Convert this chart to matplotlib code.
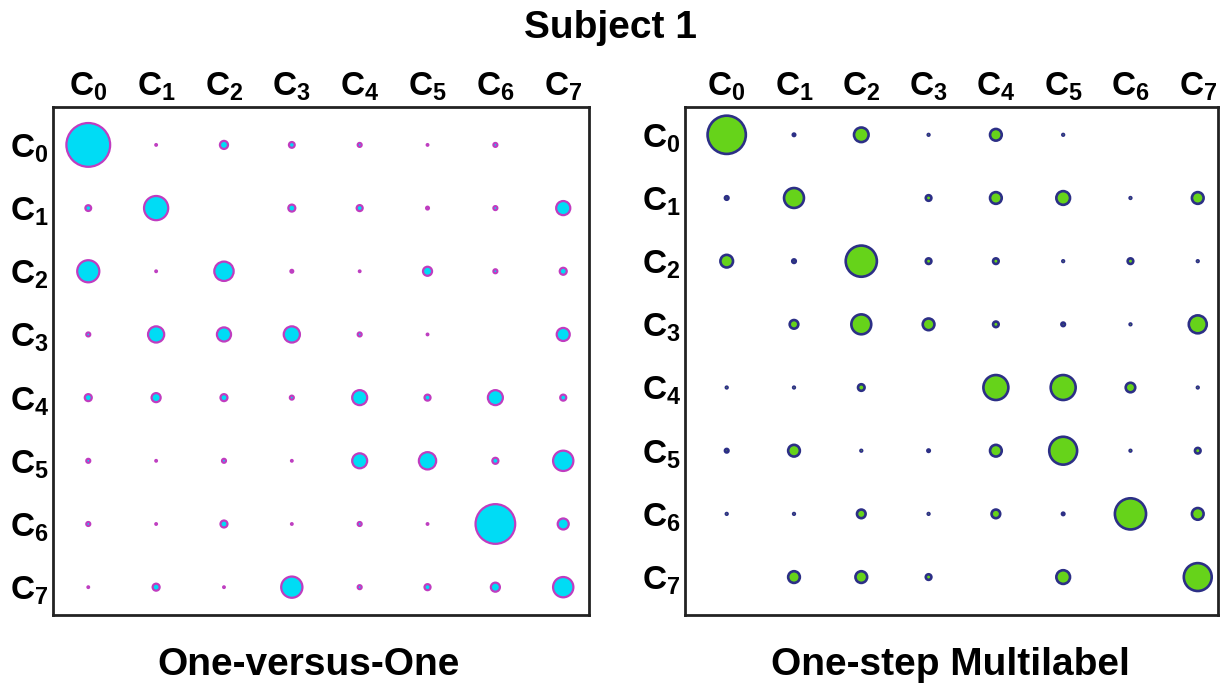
import numpy as np
import matplotlib
matplotlib.use('Agg')
import matplotlib.pyplot as plt

plt.rcParams['font.family'] = ['Liberation Sans', 'DejaVu Sans']
plt.rcParams['mathtext.fontset'] = 'custom'
plt.rcParams['mathtext.bf'] = 'Liberation Sans:bold'
plt.rcParams['mathtext.rm'] = 'Liberation Sans'

classes = ['C0', 'C1', 'C2', 'C3', 'C4', 'C5', 'C6', 'C7']
tick_labels = [r'$\mathbf{C_%d}$' % i for i in range(len(classes))]

# rows = true class, cols = predicted class (relative scores, circle area ~ value)
ovo = np.array([
    [100, 0.4, 5, 3, 1.8, 0.4, 1.8, 0],
    [3, 33, 0, 4, 3.2, 1.2, 1.8, 12.6],
    [28, 0.4, 22, 1.2, 0.4, 6, 1.8, 4],
    [1.8, 16, 12.6, 16, 1.8, 0.3, 0, 11],
    [4, 6, 4, 1.8, 14, 3.2, 14, 3.2],
    [1.8, 0.4, 1.8, 0.4, 14, 18, 3.2, 24],
    [1.8, 0.4, 4, 0.4, 1.8, 0.4, 83, 8.3],
    [0.4, 4, 0.4, 26, 1.8, 3.2, 6, 24],
])

multilabel = np.array([
    [79, 1.2, 14, 0.4, 9.7, 0.4, 0, 0],
    [1.8, 24, 0, 3.2, 9.7, 12.6, 0.4, 9.7],
    [11, 1.8, 54, 3.2, 3.2, 0.4, 3.2, 0.4],
    [0, 6, 24, 9.7, 3.2, 1.8, 0.4, 20],
    [0.4, 0.4, 4, 0, 36, 36, 7, 0.4],
    [1.8, 9.7, 0.4, 1.2, 9.7, 44, 0.4, 3.2],
    [0.4, 0.4, 6, 0.4, 6, 1.2, 54, 9.7],
    [0, 9.7, 9.7, 3.2, 0, 12.6, 0, 44],
])

fig = plt.figure(figsize=(12.21, 6.93), dpi=100)
ax1 = fig.add_axes([0.0434, 0.1126, 0.439, 0.733])
ax2 = fig.add_axes([0.561, 0.1126, 0.4365, 0.733])


def bubbles(ax, m, face, edge, lw, xlim, ylim):
    yy, xx = np.nonzero(m > 0)
    v = m[yy, xx]
    d = 0.72 * 4.6 * np.sqrt(v)
    s = np.maximum(d - lw, 1.2) ** 2
    ax.scatter(xx, yy, s=s, c=face, edgecolors=edge, linewidths=lw, zorder=3)
    ax.set_xlim(*xlim)
    ax.set_ylim(*ylim)
    ax.set_xticks(range(len(classes)))
    ax.set_yticks(range(len(classes)))
    ax.set_xticklabels(tick_labels, fontsize=24)
    ax.set_yticklabels(tick_labels, fontsize=24)
    ax.xaxis.tick_top()
    ax.tick_params(axis='x', length=0, pad=3)
    ax.tick_params(axis='y', length=0, pad=3)
    for sp in ax.spines.values():
        sp.set_linewidth(2)
        sp.set_color('#222222')


bubbles(ax1, ovo, '#00dcf5', '#c03cc0', 1.6, (-0.52, 7.38), (7.44, -0.6))
bubbles(ax2, multilabel, '#66d31a', '#2c2f86', 1.9, (-0.62, 7.3), (7.6, -0.44))

fig.text(0.5, 1 - 28 / 693, 'Subject 1', ha='center', va='center',
         fontsize=28, fontweight='bold')
fig.text(309 / 1221, 1 - 665 / 693, 'One-versus-One', ha='center', va='center',
         fontsize=28, fontweight='bold')
fig.text(950 / 1221, 1 - 665 / 693, 'One-step Multilabel', ha='center', va='center',
         fontsize=28, fontweight='bold')

fig.savefig('out.png', dpi=100)
